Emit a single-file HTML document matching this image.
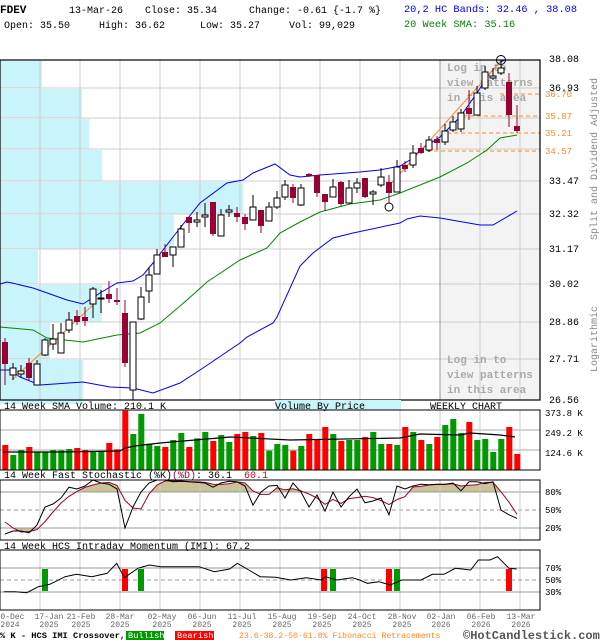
<!DOCTYPE html>
<html><head><meta charset="utf-8"><style>
html,body{margin:0;padding:0;background:#fff;width:600px;height:640px;overflow:hidden}
svg{display:block}
text{font-family:"Liberation Mono","DejaVu Sans Mono",monospace}
</style></head><body>
<svg id="s" width="600" height="640" viewBox="0 0 600 640" xmlns="http://www.w3.org/2000/svg">
<rect width="600" height="640" fill="#fff"/>
<g id="g"></g>
</svg>
<script>
var g=document.getElementById('g'),h='';
function R(x,y,w,hh,f,extra){h+='<rect x="'+x+'" y="'+y+'" width="'+w+'" height="'+hh+'" fill="'+f+'" '+(extra||'')+'/>';}
function L(x1,y1,x2,y2,c,extra){h+='<line x1="'+x1+'" y1="'+y1+'" x2="'+x2+'" y2="'+y2+'" stroke="'+c+'" '+(extra||'')+'/>';}
function T(x,y,s,sz,c,extra){h+='<text x="'+x+'" y="'+y+'" font-size="'+sz+'" fill="'+c+'" '+(extra||'')+'>'+s+'</text>';}
function P(pts,c,w,extra){h+='<polyline points="'+pts.map(function(p){return p[0]+','+p[1]}).join(' ')+'" fill="none" stroke="'+c+'" stroke-width="'+(w||1)+'" '+(extra||'')+'/>';}
// header
T(0,13,'FDEV',11,'#000','font-weight="bold"');
T(69,13,'13-Mar-26',10,'#000');T(145,13,'Close: 35.34',10,'#000');T(249,13,'Change: -0.61 {-1.7 %}',10,'#000');
T(4,28,'Open: 35.50',10,'#000');T(99,28,'High: 36.62',10,'#000');T(200,28,'Low: 35.27',10,'#000');T(289,28,'Vol: 99,029',10,'#000');
T(404,12,'20,2 HC Bands: 32.46 , 38.08',10.3,'#0000ff');T(404,27,'20 Week SMA: 35.16',10.3,'#008800');
// main panel
R(440,60,100,340,'#f3f3f3');
var vbp=[[60,88,42],[88,118,82],[118,149,89],[149,181,102],[181,214,243],[214,249,174],[249,284,38],[284,322,102],[322,359,50],[359,404,83]];
vbp.forEach(function(v){R(0,v[0]+1,v[2],v[1]-v[0]-1,'#c8f4fa');});
[88,118,149,181,214,249,284,322,359].forEach(function(y){L(0,y,540,y,'#ccc');});
for(var x=40;x<540;x+=40){L(x,60,x,400,x==440?'#999':'#ccc');}
['Log in to','view patterns','in this area'].forEach(function(s,i){T(447,71+i*15,s,11,'#aaa','font-weight="bold"');T(447,363+i*15,s,11,'#aaa','font-weight="bold"');});
[[500,94,'36.70'],[463,116,'35.87'],[447,133,'35.21'],[427,151,'34.57']].forEach(function(f){L(f[0],f[1],540,f[1],'#ff8822','stroke-dasharray="4,3"');T(545,f[1]+3,f[2],9,'#ff8822');});
P([[0,284],[7,282],[12,283],[33,288],[67,300],[83,304],[100,293],[117,283],[133,281],[143,275],[153,263],[173,237],[200,203],[227,183],[243,180],[253,173],[275,164],[290,175],[300,177],[320,175],[360,172],[380,170],[400,166],[410,160],[423,148],[440,137],[460,117],[477,93],[490,73],[500,62],[505,60],[517,60]],'#0000ee',1);
P([[0,327],[33,330],[47,338],[83,342],[117,335],[140,333],[160,323],[187,300],[207,282],[240,260],[267,248],[280,233],[300,222],[320,212],[350,204],[380,200],[400,193],[440,177],[467,163],[487,150],[500,138],[517,135]],'#008800',1);
P([[0,370],[10,370],[20,377],[40,385],[83,382],[110,387],[133,388],[153,393],[180,383],[200,370],[240,343],[247,337],[273,323],[277,317],[300,266],[313,253],[333,238],[353,233],[400,223],[407,219],[420,216],[440,218],[480,225],[493,225],[517,211]],'#0000ee',1);
L(12,380,93,305,'#ff8822');L(388,187,500,62,'#ff8822');
var C=[['r',342,364,338,385],['w',368,375,363,380],['w',371,374,365,377],['r',363,378,358,380],['w',364,385,360,385],['w',340,355,338,356],['w',339,344,324,350],['w',333,353,323,353],['w',320,330,312,333],['r',316,322,310,325],['r',317,321,307,326],['w',289,304,287,318],['w',298,299,290,313],['r',294,299,281,303],['r',300,302,288,305],['r',313,363,300,367],['w',322,390,322,400],['w',297,319,287,320],['w',275,291,267,303],['w',255,274,249,274],['r',252,257,244,257],['w',247,255,247,267],['w',229,247,225,247],['r',217,223,217,233],['w',220,222,212,227],['w',215,217,203,227],['r',202,234,202,236],['w',215,236,209,236],['w',210,212,205,217],['r',213,217,207,222],['r',217,224,214,230],['w',207,220,195,220],['r',210,226,210,233],['w',207,221,202,221],['w',198,207,191,209],['w',185,197,180,200],['r',187,198,184,203],['w',188,205,184,206],['r',174,176,173,177],['r',175,193,175,197],['r',194,202,194,211],['w',187,197,179,197],['r',182,204,181,206],['w',188,203,180,203],['w',183,188,178,193],['r',178,197,178,198],['w',192,194,190,205],['w',177,185,168,187],['r',182,193,175,203],['w',167,192,160,192],['r',165,169,161,172],['w',153,165,145,168],['r',148,153,143,154],['w',140,150,136,152],['r',139,143,136,150],['w',131,142,124,145],['w',122,130,116,132],['w',113,129,109,132],['r',108,114,90,120],['w',93,115,86,115],['w',72,88,66,90],['w',76,78,68,80],['w',68,73,60,75],['r',82,115,73,127],['r',126,131,105,133]];
C.forEach(function(c,i){var x=5+i*8;L(x,c[3],x,c[4],c[0]=='r'?'#990033':'#000','stroke-width="1"');
 if(c[0]=='r')R(x-3,c[1],6,Math.max(c[2]-c[1],1.5),'#990033');else R(x-3,c[1],6,Math.max(c[2]-c[1],1),'#fff','stroke="#000" stroke-width="1"');});
h+='<circle cx="389" cy="207" r="4" fill="none" stroke="#000"/><circle cx="501" cy="60" r="4.5" fill="none" stroke="#000"/>';
R(0,60,540,340,'none','stroke="#000" stroke-width="1.2"');
[[38.08,59],[36.93,88],[33.47,181],[32.32,214],[31.17,249],[30.02,284],[28.86,322],[27.71,359],[26.56,400]].forEach(function(a){T(549,a[1]+3,a[0].toFixed(2),10,'#000');});
T(597,240,'Split and Dividend Adjusted',10,'#888','transform="rotate(-90 597 240)"');
T(597,372,'Logarithmic',10,'#888','transform="rotate(-90 597 372)"');
R(275,400,126,10,'#c8f4fa');
T(4,409,'14 Week SMA Volume: 210.1 K',10,'#000');T(275,409,'Volume By Price',10,'#000');T(430,409,'WEEKLY CHART',10,'#000');
[430,450].forEach(function(y){L(0,y,540,y,'#aaa');});
for(var x=40;x<540;x+=40){L(x,410,x,470,'#ccc');}
var V=[['r',150],['g',180],['g',165],['r',156],['g',172],['g',172],['g',165],['g',166],['g',162],['r',159],['r',165],['g',171],['g',171],['r',144],['r',163],['r',47],['g',117],['g',57],['g',146],['g',153],['r',156],['g',135],['g',114],['r',156],['g',130],['g',111],['r',138],['g',120],['g',141],['r',117],['r',111],['g',123],['r',114],['g',167],['g',147],['g',150],['r',167],['g',153],['r',117],['r',135],['r',96],['g',117],['r',138],['g',135],['g',135],['r',126],['g',111],['g',147],['r',147],['g',150],['r',96],['g',111],['r',135],['g',147],['r',126],['g',90],['g',72],['g',114],['r',81],['g',135],['g',132],['g',171],['g',132],['r',96],['r',177]];
V.forEach(function(v,i){var x=2.3+i*8.0,y=395+v[1]/3;R(x,y,6,470-y,v[0]=='r'?'#ff0000':'#009900');});
P([[3,452],[60,452],[120,451],[125,448],[135,446],[160,443],[230,437],[290,440],[400,438],[420,434],[460,435],[470,433],[500,435],[515,437]],'#000',1.2);
R(0,410,540,60,'none','stroke="#000"');
T(545,416,'373.8 K',9,'#000');T(545,436,'249.2 K',9,'#000');T(545,456,'124.6 K',9,'#000');
T(4,478,'14 Week Fast Stochastic (%K)',10,'#000');T(172,478,'(%D)',10,'#990033');T(196,478,': 36.1',10,'#000');T(244,478,'60.1',10,'#cc0033');
var K=[10,15,15,12,25,55,60,70,88,85,90,100,95,93,85,20,55,80,95,100,100,97,98,97,96,95,88,95,98,97,90,58,80,90,91,70,95,80,55,75,48,80,55,72,85,62,65,70,42,90,85,90,93,92,93,93,95,82,97,97,94,97,50,42,36];
var D=K.map(function(v,i){var a=K.slice(Math.max(0,i-2),i+1);return a.reduce(function(s,x){return s+x},0)/a.length;});
D[0]=30;D[1]=20;
function sy(v){return 540-v*0.6;}
var dpts=D.map(function(v,i){return [5+i*8,sy(v)];});
h+='<clipPath id="ca"><rect x="0" y="480" width="540" height="12"/></clipPath><clipPath id="cb"><rect x="0" y="528" width="540" height="12"/></clipPath>';
h+='<polygon clip-path="url(#ca)" points="5,492 '+dpts.map(function(p){return p.join(',')}).join(' ')+' 517,492" fill="#c8c496"/>';
h+='<polygon clip-path="url(#cb)" points="5,528 '+dpts.map(function(p){return p.join(',')}).join(' ')+' 517,528" fill="#c8c496"/>';
L(0,492,540,492,'#999');L(0,528,540,528,'#999');L(0,510,540,510,'#999','stroke-dasharray="4,3"');
for(var x=40;x<540;x+=40){L(x,480,x,540,'#ccc');}
P(dpts,'#990033',1);
P(K.map(function(v,i){return [5+i*8,sy(v)];}),'#000',1);
R(0,480,540,60,'none','stroke="#000"');
T(545,495,'80%',9,'#000');T(545,513,'50%',9,'#000');T(545,531,'20%',9,'#000');
T(4,549,'14 Week HCS Intraday Momentum (IMI): 67.2',10,'#000');
for(var x=40;x<540;x+=40){L(x,550,x,610,'#ccc');}
L(0,568,540,568,'#999');L(0,592,540,592,'#999');L(0,580,540,580,'#999','stroke-dasharray="4,3"');
[['g',45],['r',125],['g',141],['r',324],['g',333],['r',389],['g',397],['r',509]].forEach(function(b){R(b[1]-3,569,6,22,b[0]=='r'?'#ff0000':'#009900');});
var I=[[10,590],[40,590],[70,593],[100,575],[130,568],[170,545],[200,538],[240,545],[280,535],[305,505],[325,548],[360,520],[390,510],[420,515],[520,515],[560,530],[600,522],[620,505],[650,525],[680,545],[720,547],[760,555],[800,548],[840,555],[850,545],[880,555],[920,548],[940,555],[960,565],[990,560],[1020,570],[1050,555],[1100,555],[1130,538],[1160,538],[1190,520],[1230,525],[1250,495],[1280,495],[1300,485],[1330,520],[1350,522]].map(function(p){return [(p[0]/2.613).toFixed(1),(395+p[1]/3).toFixed(1)];});
P(I,'#000',1);
R(0,550,540,60,'none','stroke="#000"');
T(545,571,'70%',9,'#000');T(545,583,'50%',9,'#000');T(545,595,'30%',9,'#000');
[['20-Dec','2024',10],['17-Jan','2025',49],['21-Feb','2025',81],['28-Mar','2025',120],['02-May','2025',162],['06-Jun','2025',202],['11-Jul','2025',242],['15-Aug','2025',282],['19-Sep','2025',322],['24-Oct','2025',362],['28-Nov','2025',402],['02-Jan','2026',441],['06-Feb','2026',481],['13-Mar','2026',521]].forEach(function(d){T(d[2],619,d[0],8,'#666','text-anchor="middle"');T(d[2],627,d[1],8,'#666','text-anchor="middle"');});
T(0,638,'% K - HCS IMI Crossover,',8.7,'#000','font-weight="bold"');
R(126,631,38,9,'#009900');T(128,638,'Bullish',8.7,'#fff');
R(175,631,39,9,'#ff0000');T(177,638,'Bearish',8.7,'#fff');
T(239,638,'23.6-38.2-50-61.8% Fibonacci Retracements',8.2,'#ff8822');
T(463,639,'©HotCandlestick.com',12,'#555','font-weight="bold"');
g.innerHTML=h;
</script>
</body></html>
